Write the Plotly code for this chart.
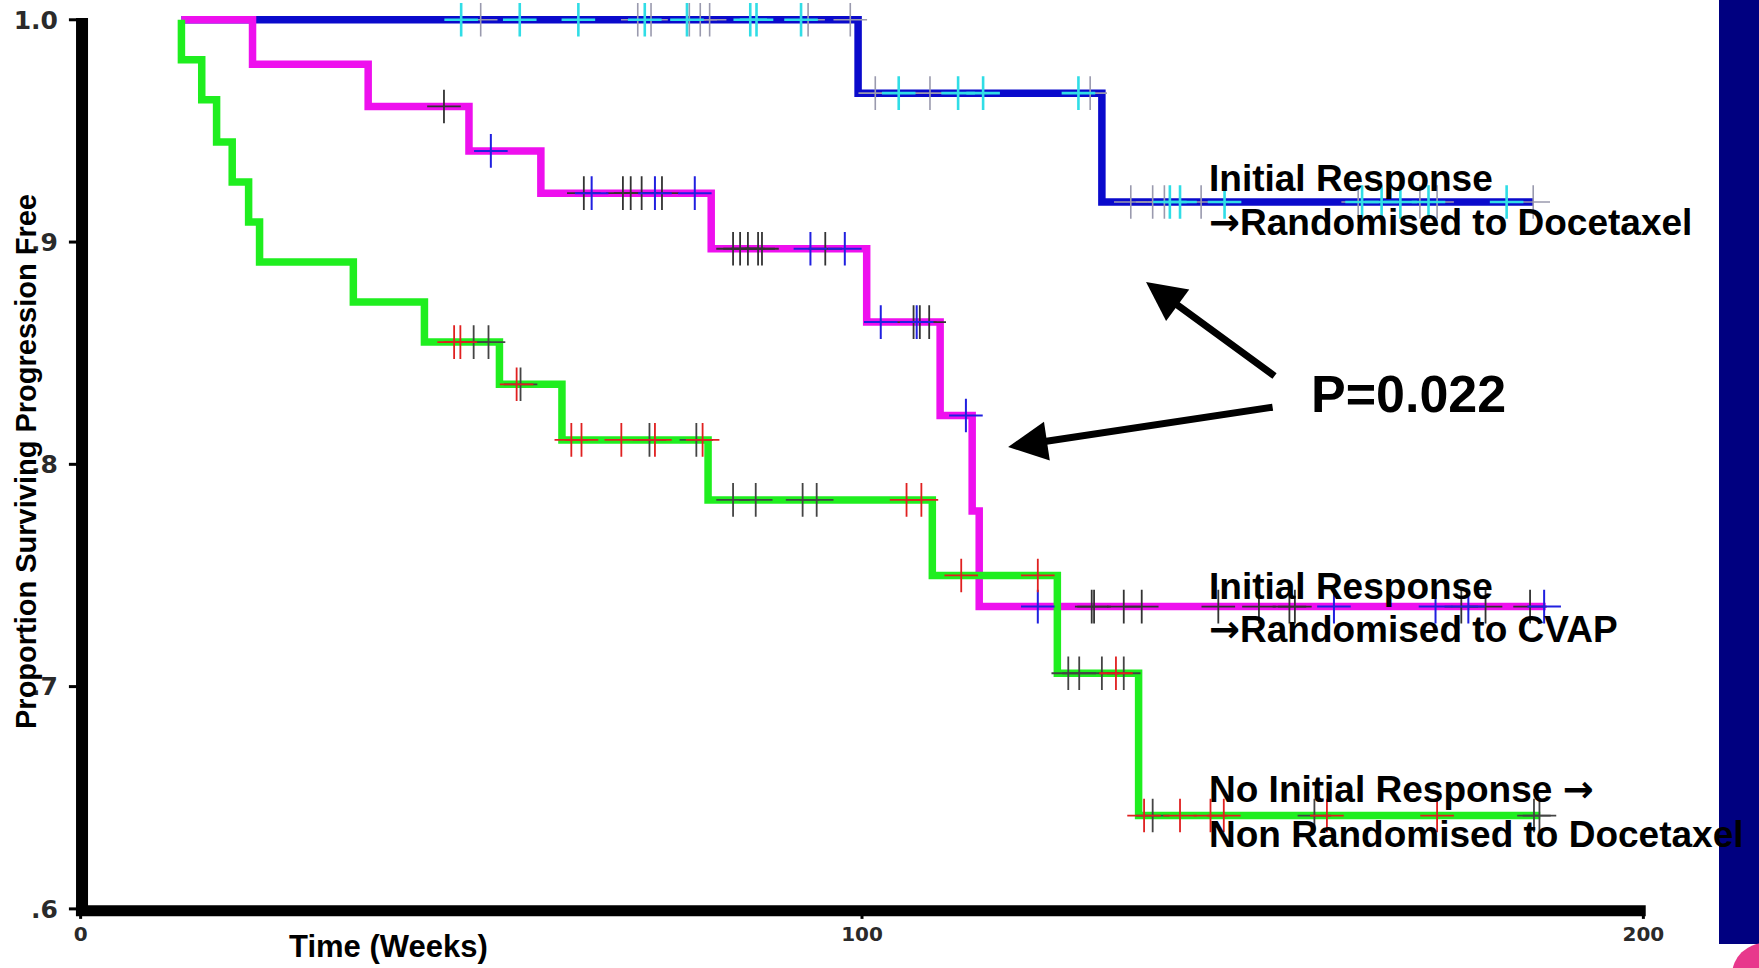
import plotly.graph_objects as go

# ---------------- data ----------------
# Kaplan-Meier step curves: event times (weeks) and survival after each step
blue_t = [12.9, 99.5, 130.7]
blue_s = [1.0, 0.967, 0.918]
blue_end = 185.9

mag_t = [12.9, 22.0, 36.8, 49.7, 58.9, 80.7, 100.6, 110.0, 114.1, 115.0]
mag_s = [1.0, 0.980, 0.961, 0.941, 0.922, 0.897, 0.864, 0.822, 0.779, 0.736]
mag_end = 187.5

green_t = [12.9, 12.9, 15.5, 17.4, 19.4, 21.5, 22.9, 34.9, 44.0, 53.6, 61.6, 80.3, 109.0, 125.0, 135.4]
green_s = [1.0, 0.982, 0.964, 0.945, 0.927, 0.909, 0.891, 0.873, 0.855, 0.836, 0.811, 0.784, 0.750, 0.706, 0.642]
green_end = 186.8

# censoring marks (weeks)
blue_cens_cyan = [48.7, 56.2, 63.7, 72.2, 77.6, 85.7, 86.5, 92.2, 104.7, 112.3, 115.5, 127.7,
                  139.4, 140.7, 146.4, 164.0, 166.5, 168.9, 172.5, 182.5]
blue_cens_gray = [51.2, 71.3, 73.0, 77.9, 79.3, 80.5, 93.1, 98.5, 101.7, 108.7, 129.2,
                  134.4, 137.2, 138.7, 143.4, 163.5, 171.4, 173.6, 185.9]
mag_cens_dark = [46.5, 64.4, 69.4, 70.4, 71.8, 74.4, 83.5, 84.4, 85.4, 86.7, 87.2, 95.3, 106.6,
                 107.4, 108.6, 129.4, 129.7, 133.5, 135.8, 145.6, 150.8, 154.7, 155.4, 176.7,
                 179.8, 185.5]
mag_cens_blue = [52.5, 65.4, 73.5, 78.6, 93.4, 97.8, 102.4, 107.0, 113.3, 122.5, 160.4, 173.4,
                 177.6, 187.3]
green_cens_red = [47.8, 48.6, 55.8, 62.8, 64.1, 69.2, 73.5, 79.6, 105.7, 107.6, 112.7, 122.5,
                  132.5, 136.1, 140.7, 144.6, 146.3, 159.5, 173.6]
green_cens_dark = [50.3, 52.2, 56.3, 72.8, 78.8, 83.5, 86.4, 92.4, 94.2, 126.4, 127.8, 130.7,
                   133.5, 137.2, 157.9, 186.0, 186.7]

x_tickvals = [0, 100, 200]
x_ticktext = ["0", "100", "200"]
y_tickvals = [0.6, 0.7, 0.8, 0.9, 1.0]
y_ticktext = [".6", ".7", ".8", ".9", "1.0"]

# ---------------- layout geometry ----------------
W, H = 1759, 968
ML, MR, MT, MB = 65, 100, 2, 48
XR = [-2, 202]
YR = [0.595, 1.008]
PW = W - ML - MR
PH = H - MT - MB


def paper_x(px):
    return (px - ML) / PW


def paper_y(py):
    return 1 - (py - MT) / PH


def step_xy(times, surv, end):
    return list(times) + [end], list(surv) + [surv[-1]]


def surv_at(times, surv, t):
    v = surv[0]
    for ti, si in zip(times, surv):
        if t >= ti:
            v = si
    return v


BLUE = "#0a0acc"
MAGENTA = "#ee10ee"
GREEN = "#1fee1f"

fig = go.Figure()

for (tt, ss, end, col) in [(blue_t, blue_s, blue_end, BLUE),
                           (mag_t, mag_s, mag_end, MAGENTA),
                           (green_t, green_s, green_end, GREEN)]:
    xs, ys = step_xy(tt, ss, end)
    fig.add_trace(go.Scatter(x=xs, y=ys, mode="lines",
                             line=dict(shape="hv", color=col, width=7.5),
                             hoverinfo="skip", showlegend=False))

for (cens, tt, ss, col, lw) in [(blue_cens_gray, blue_t, blue_s, "#9a9aae", 1.6),
                                (blue_cens_cyan, blue_t, blue_s, "#30dde6", 2.6),
                                (mag_cens_dark, mag_t, mag_s, "#333333", 1.8),
                                (mag_cens_blue, mag_t, mag_s, "#2020e0", 2.0),
                                (green_cens_dark, green_t, green_s, "#444444", 1.8),
                                (green_cens_red, green_t, green_s, "#e02020", 1.8)]:
    fig.add_trace(go.Scatter(x=cens, y=[surv_at(tt, ss, c) for c in cens], mode="markers",
                             marker=dict(symbol="cross-thin", size=24,
                                         line=dict(color=col, width=lw)),
                             hoverinfo="skip", showlegend=False))

shapes = []
# axis lines (thick black)
shapes.append(dict(type="line", xref="x", yref="y", x0=0.18, x1=0.18, y0=0.5975, y1=1.0008,
                   line=dict(color="black", width=12)))
shapes.append(dict(type="line", xref="x", yref="y", x0=-0.6, x1=200.3, y0=0.5992, y1=0.5992,
                   line=dict(color="black", width=11)))
# tick marks
for v in y_tickvals:
    shapes.append(dict(type="line", xref="x", yref="y", x0=-1.5, x1=0, y0=v, y1=v,
                       line=dict(color="black", width=3)))
for v in x_tickvals:
    shapes.append(dict(type="line", xref="x", yref="y", x0=v, x1=v, y0=0.5992, y1=0.5955,
                       line=dict(color="black", width=3)))
# navy bar at right edge and pink corner
shapes.append(dict(type="rect", xref="paper", yref="paper",
                   x0=paper_x(1719), x1=paper_x(1762), y0=paper_y(944), y1=paper_y(-3),
                   fillcolor="#000080", line=dict(width=0), layer="below"))
shapes.append(dict(type="circle", xref="paper", yref="paper",
                   x0=paper_x(1732), x1=paper_x(1798), y0=paper_y(1007), y1=paper_y(943),
                   fillcolor="#e8388c", line=dict(width=0), layer="below"))

FONT = "Liberation Sans, Arial, sans-serif"
ARROW = '<span style="font-family:DejaVu Sans">\u2192</span>'
ann = []


def label(text, px, py, size, xanchor="left"):
    ann.append(dict(text="<b>" + text + "</b>", x=paper_x(px), y=paper_y(py),
                    xref="paper", yref="paper", xanchor=xanchor, yanchor="middle",
                    showarrow=False, font=dict(family=FONT, size=size, color="black")))


label("Initial Response", 1207, 179, 37)
label(ARROW + "Randomised to Docetaxel", 1207, 223, 37)
label("Initial Response", 1207, 586, 37)
label(ARROW + "Randomised to CVAP", 1207, 629, 37)
label("No Initial Response " + ARROW, 1207, 789, 37)
label("Non Randomised to Docetaxel", 1207, 834, 37)
label("P=0.022", 1408, 394, 52, xanchor="center")
label("Time (Weeks)", 388, 946, 31, xanchor="center")

ann.append(dict(text="<b>Proportion Surviving Progression Free</b>", textangle=-90,
                x=paper_x(26), y=paper_y(462), xref="paper", yref="paper",
                xanchor="center", yanchor="middle", showarrow=False,
                font=dict(family=FONT, size=29, color="black")))

# arrows from the p-value to the two responder curves
for (hx, hy, ax, ay) in [(136.35, 0.8820, 130, 95), (118.7, 0.8078, 266, -40)]:
    ann.append(dict(x=hx, y=hy, xref="x", yref="y", ax=ax, ay=ay, text="",
                    showarrow=True, arrowhead=2, arrowsize=1.12, arrowwidth=7,
                    arrowcolor="black", standoff=0))

fig.update_layout(
    width=W, height=H,
    margin=dict(l=ML, r=MR, t=MT, b=MB, pad=0),
    paper_bgcolor="white", plot_bgcolor="white",
    shapes=shapes, annotations=ann,
    xaxis=dict(range=XR, showgrid=False, zeroline=False, showline=False,
               tickvals=x_tickvals, ticktext=x_ticktext, ticks="",
               tickfont=dict(family="DejaVu Sans", size=20, color="#2a2a2a", weight="bold")),
    yaxis=dict(range=YR, showgrid=False, zeroline=False, showline=False,
               tickvals=y_tickvals, ticktext=y_ticktext, ticks="",
               ticklabelstandoff=6,
               tickfont=dict(family="DejaVu Sans", size=25, color="#2a2a2a", weight="bold")),
    showlegend=False,
)

fig.write_html("out.html",
               config={"displayModeBar": False},
               post_script="document.body.style.margin='0px';"
                           "document.body.style.overflow='hidden';")
